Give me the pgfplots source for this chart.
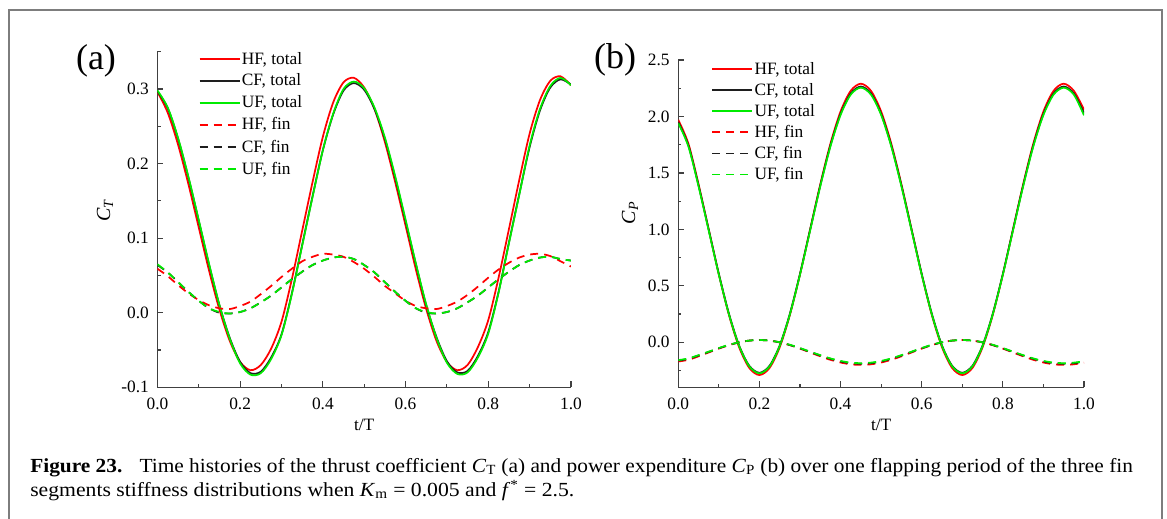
\documentclass[border=0pt]{standalone}
\usepackage{fontspec}
\setmainfont{Liberation Serif}
\usepackage{graphicx}
\usepackage{pgfplots}
\usepackage{pgfplotstable}
\pgfplotsset{compat=1.18}

\definecolor{cred}{RGB}{255,0,0}
\definecolor{cblack}{RGB}{30,30,30}
\definecolor{cgreen}{RGB}{0,235,0}
\definecolor{cframe}{RGB}{125,125,125}

\pgfplotstableread{
t HFt CFt UFt HFf CFf UFf
0.000 0.296 0.297 0.298 0.059 0.064 0.065
0.025 0.268 0.274 0.275 0.049 0.054 0.054
0.050 0.225 0.233 0.234 0.037 0.041 0.041
0.075 0.172 0.181 0.182 0.026 0.028 0.028
0.100 0.114 0.123 0.124 0.017 0.016 0.016
0.125 0.056 0.064 0.065 0.010 0.006 0.006
0.150 0.004 0.010 0.010 0.006 0.000 0.001
0.175 -0.038 -0.034 -0.035 0.005 -0.001 -0.001
0.200 -0.066 -0.066 -0.068 0.009 0.001 0.001
0.225 -0.077 -0.081 -0.083 0.015 0.006 0.006
0.250 -0.070 -0.079 -0.081 0.025 0.014 0.014
0.275 -0.048 -0.060 -0.062 0.036 0.023 0.023
0.300 -0.012 -0.029 -0.030 0.048 0.034 0.034
0.325 0.045 0.026 0.025 0.059 0.045 0.045
0.350 0.110 0.091 0.090 0.069 0.055 0.055
0.375 0.175 0.156 0.155 0.075 0.064 0.064
0.400 0.236 0.218 0.218 0.079 0.070 0.070
0.425 0.282 0.266 0.267 0.078 0.074 0.074
0.450 0.309 0.298 0.300 0.075 0.075 0.075
0.475 0.315 0.308 0.310 0.068 0.072 0.072
0.500 0.302 0.299 0.301 0.059 0.064 0.064
0.525 0.273 0.273 0.275 0.048 0.054 0.054
0.550 0.229 0.233 0.235 0.036 0.041 0.041
0.575 0.175 0.181 0.183 0.026 0.028 0.028
0.600 0.117 0.123 0.125 0.016 0.016 0.016
0.625 0.058 0.065 0.066 0.009 0.006 0.006
0.650 0.005 0.010 0.011 0.006 0.000 0.001
0.675 -0.038 -0.033 -0.034 0.005 -0.001 -0.001
0.700 -0.066 -0.065 -0.067 0.009 0.001 0.001
0.725 -0.077 -0.080 -0.082 0.015 0.006 0.006
0.750 -0.070 -0.078 -0.080 0.024 0.014 0.014
0.775 -0.046 -0.058 -0.060 0.035 0.023 0.023
0.800 -0.010 -0.026 -0.028 0.047 0.034 0.034
0.825 0.047 0.028 0.027 0.058 0.045 0.045
0.850 0.112 0.094 0.093 0.067 0.055 0.055
0.875 0.178 0.159 0.158 0.074 0.064 0.064
0.900 0.240 0.222 0.224 0.078 0.070 0.070
0.925 0.285 0.271 0.273 0.079 0.074 0.074
0.950 0.311 0.302 0.304 0.076 0.075 0.075
0.975 0.317 0.313 0.315 0.069 0.072 0.072
1.000 0.305 0.306 0.305 0.062 0.070 0.070
}\tabA

\pgfplotstableread{
t HFt CFt UFt HFf CFf UFf
0.000 1.970 1.950 1.940 -0.170 -0.162 -0.158
0.025 1.759 1.743 1.734 -0.155 -0.146 -0.143
0.050 1.399 1.389 1.381 -0.124 -0.117 -0.114
0.075 1.000 0.998 0.990 -0.090 -0.085 -0.083
0.100 0.601 0.606 0.599 -0.056 -0.053 -0.051
0.125 0.241 0.252 0.246 -0.025 -0.024 -0.022
0.150 -0.044 -0.028 -0.033 -0.001 0.000 0.000
0.175 -0.227 -0.208 -0.213 0.015 0.015 0.015
0.200 -0.290 -0.270 -0.275 0.020 0.020 0.020
0.225 -0.227 -0.208 -0.213 0.015 0.015 0.015
0.250 -0.044 -0.028 -0.033 -0.001 0.000 0.000
0.275 0.241 0.252 0.246 -0.025 -0.024 -0.022
0.300 0.601 0.606 0.599 -0.056 -0.053 -0.051
0.325 1.000 0.998 0.990 -0.090 -0.085 -0.083
0.350 1.399 1.389 1.381 -0.124 -0.117 -0.114
0.375 1.759 1.743 1.734 -0.155 -0.146 -0.143
0.400 2.044 2.023 2.013 -0.179 -0.170 -0.165
0.425 2.227 2.203 2.193 -0.195 -0.185 -0.180
0.450 2.290 2.265 2.255 -0.200 -0.190 -0.185
0.475 2.227 2.203 2.193 -0.195 -0.185 -0.180
0.500 2.044 2.023 2.013 -0.179 -0.170 -0.165
0.525 1.759 1.743 1.734 -0.155 -0.146 -0.143
0.550 1.399 1.389 1.381 -0.124 -0.117 -0.114
0.575 1.000 0.998 0.990 -0.090 -0.085 -0.083
0.600 0.601 0.606 0.599 -0.056 -0.053 -0.051
0.625 0.241 0.252 0.246 -0.025 -0.024 -0.022
0.650 -0.044 -0.028 -0.033 -0.001 0.000 0.000
0.675 -0.227 -0.208 -0.213 0.015 0.015 0.015
0.700 -0.290 -0.270 -0.275 0.020 0.020 0.020
0.725 -0.227 -0.208 -0.213 0.015 0.015 0.015
0.750 -0.044 -0.028 -0.033 -0.001 0.000 0.000
0.775 0.241 0.252 0.246 -0.025 -0.024 -0.022
0.800 0.601 0.606 0.599 -0.056 -0.053 -0.051
0.825 1.000 0.998 0.990 -0.090 -0.085 -0.083
0.850 1.399 1.389 1.381 -0.124 -0.117 -0.114
0.875 1.759 1.743 1.734 -0.155 -0.146 -0.143
0.900 2.044 2.023 2.013 -0.179 -0.170 -0.165
0.925 2.227 2.203 2.193 -0.195 -0.185 -0.180
0.950 2.290 2.265 2.255 -0.200 -0.190 -0.185
0.975 2.227 2.203 2.193 -0.195 -0.185 -0.180
1.000 2.060 2.030 2.010 -0.180 -0.172 -0.168
}\tabB

\newcommand{\tickfont}{\fontsize{13}{15}\selectfont}

\pgfplotsset{
  myaxis/.style={
    scale only axis,
    axis x line=bottom, axis y line=left,
    axis line style={-, line width=1pt, black!75},
    tick align=inside,
    major tick length=4.5pt, minor tick length=2.3pt,
    every tick/.style={line width=0.9pt, black!75},
    xmin=0, xmax=1,
    xtick={0,0.2,0.4,0.6,0.8,1},
    xticklabels={0.0,0.2,0.4,0.6,0.8,1.0},
    minor xtick={0.1,0.3,0.5,0.7,0.9},
    tick label style={font=\tickfont},
    xticklabel style={yshift=-4.5pt},
    yticklabel style={xshift=-3pt},
    xlabel style={font=\tickfont},
    ylabel style={font=\fontsize{15}{17}\selectfont},
    legend cell align=left,
    legend image code/.code={\draw[##1, line width=1.3pt] (0pt,0pt) -- (30pt,0pt);},
    legend style={draw=none, fill=none, inner sep=0pt, outer sep=0pt,
      font=\tickfont, nodes={inner sep=1pt}},
  },
  tot/.style={line width=1.3pt, smooth},
  fin/.style={line width=1.3pt, smooth, dash pattern=on 6pt off 4.5pt},
}

\begin{document}
\begin{tikzpicture}
\useasboundingbox (0,0) rectangle (875.25pt,388.5pt);
\draw[cframe, line width=1.2pt] (6.75pt,-5pt) -- (6.75pt,381pt) -- (871.3pt,381pt) -- (871.3pt,-5pt);

\begin{axis}[myaxis,
  at={(118.1pt,98.0pt)}, anchor=south west,
  width=310.1pt, height=251.7pt,
  ymin=-0.1, ymax=0.35,
  ytick={-0.1,0,0.1,0.2,0.3},
  yticklabels={-0.1,0.0,0.1,0.2,0.3},
  minor ytick={-0.05,0.05,0.15,0.25,0.35},
  xlabel={t/T},
  xlabel style={at={(axis description cs:0.5,-0.112)}, anchor=center},
  ylabel={\textit{C}\textsubscript{\textit{T}}},
  ylabel style={at={(axis description cs:-0.127,0.528)}, anchor=center},
  legend style={at={(axis description cs:0.1,1.003)}, anchor=north west, row sep=3.9pt},
]
\addplot[cred, tot] table[x=t,y=HFt]{\tabA};
\addlegendentry{HF, total}
\addplot[cblack, tot] table[x=t,y=CFt]{\tabA};
\addlegendentry{CF, total}
\addplot[cgreen, tot] table[x=t,y=UFt]{\tabA};
\addlegendentry{UF, total}
\addplot[cred, fin] table[x=t,y=HFf]{\tabA};
\addlegendentry{HF, fin}
\addplot[cblack, fin] table[x=t,y=CFf]{\tabA};
\addlegendentry{CF, fin}
\addplot[cgreen, fin] table[x=t,y=UFf]{\tabA};
\addlegendentry{UF, fin}
\end{axis}

\begin{axis}[myaxis,
  at={(508.7pt,97.9pt)}, anchor=south west,
  width=304.3pt, height=245.6pt,
  ymin=-0.4, ymax=2.5,
  ytick={0,0.5,1,1.5,2,2.5},
  yticklabels={0.0,0.5,1.0,1.5,2.0,2.5},
  minor ytick={-0.25,0.25,0.75,1.25,1.75,2.25},
  xlabel={t/T},
  xlabel style={at={(axis description cs:0.5,-0.115)}, anchor=center},
  ylabel={\textit{C}\textsubscript{\textit{P}}},
  ylabel style={at={(axis description cs:-0.119,0.533)}, anchor=center},
  legend style={at={(axis description cs:0.082,0.997)}, anchor=north west, row sep=3.2pt},
]
\addplot[cred, tot] table[x=t,y=HFt]{\tabB};
\addlegendentry{HF, total}
\addplot[cblack, tot] table[x=t,y=CFt]{\tabB};
\addlegendentry{CF, total}
\addplot[cgreen, tot] table[x=t,y=UFt]{\tabB};
\addlegendentry{UF, total}
\addplot[cred, fin] table[x=t,y=HFf]{\tabB};
\addlegendentry{HF, fin}
\addplot[cblack, fin] table[x=t,y=CFf]{\tabB};
\addlegendentry{CF, fin}
\addplot[cgreen, fin] table[x=t,y=UFf]{\tabB};
\addlegendentry{UF, fin}
\end{axis}

\node[font=\fontsize{27}{30}\selectfont] at (72pt,342.75pt) {(a)};
\node[font=\fontsize{27}{30}\selectfont] at (461.25pt,343.5pt) {(b)};

\node[anchor=base west, inner sep=0pt, font=\fontsize{15}{18}\selectfont] at (22.5pt,34.5pt)
  {\resizebox{827pt}{\height}{\textbf{Figure 23.}\hspace{0.8em}Time histories of the thrust coefficient \textit{C}\textsubscript{T} (a) and power expenditure \textit{C}\textsubscript{P} (b) over one flapping period of the three fin}};
\node[anchor=base west, inner sep=0pt, font=\fontsize{15}{18}\selectfont] at (22.5pt,16.5pt)
  {\resizebox{408pt}{\height}{segments stiffness distributions when \textit{K}\textsubscript{m} = 0.005 and \textit{f}\textsuperscript{*} = 2.5.}};
\end{tikzpicture}
\end{document}
